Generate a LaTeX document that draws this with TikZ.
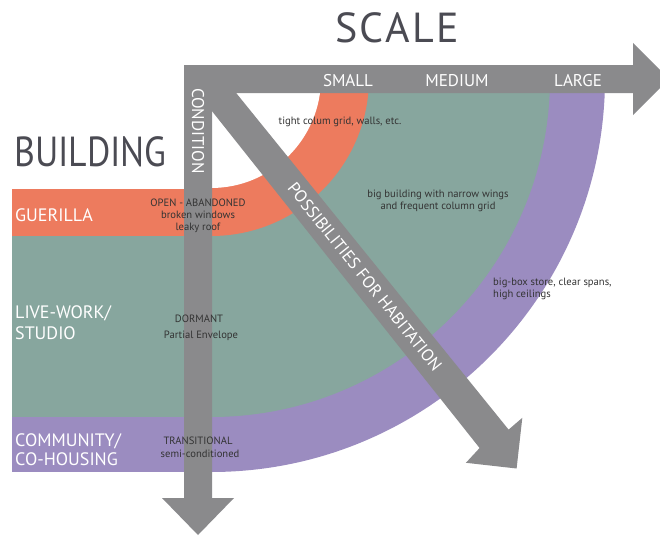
\documentclass[tikz,border=0pt]{standalone}
\usepackage{fontspec}
\setmainfont{PT Sans}
\definecolor{barGray}{HTML}{8A8A8C}
\definecolor{bandOrange}{HTML}{ED7B5E}
\definecolor{bandTeal}{HTML}{87A69E}
\definecolor{bandPurple}{HTML}{9B8CC0}
\definecolor{noteText}{HTML}{333333}
\definecolor{titleText}{HTML}{4B4B53}
\begin{document}
\begin{tikzpicture}[x=1pt,y=-1pt,
  bar/.style={fill=barGray},
  bigtitle/.style={text=titleText, inner sep=0, font=\fontsize{42}{46}\selectfont},
  whitelab/.style={text=white, inner sep=0, font=\fontsize{17}{20}\selectfont},
  rowlab/.style={text=white, inner sep=0, font=\fontsize{18}{21}\selectfont},
  note/.style={text=noteText, inner sep=0, font=\fontsize{10.6}{12}\selectfont}]
\useasboundingbox (0,0) rectangle (660,535);
\coordinate (C) at (211,78);
% bands
\fill[bandPurple] (12,189) rectangle (211,472);
\fill[bandPurple] (C) -- (211,472) arc[start angle=90,end angle=0,radius=394] -- cycle;
\fill[bandTeal] (12,189) rectangle (211,417);
\fill[bandTeal] (C) -- (211,417) arc[start angle=90,end angle=0,radius=339] -- cycle;
\fill[bandOrange] (12,189) rectangle (211,236);
\fill[bandOrange] (C) -- (211,236) arc[start angle=90,end angle=0,radius=158] -- cycle;
\fill[white] (C) -- (211,188) arc[start angle=90,end angle=0,radius=110] -- cycle;
% diagonal arrow
\fill[bar] (223.7,77.6) -- (200.3,96.4) -- (479.6,448.0) -- (465.9,462.8) -- (516.6,468.5) -- (522.3,417.8) -- (508.6,429.6) -- cycle;
% horizontal and vertical arrows
\fill[bar] (184,65) -- (633,65) -- (633,43) -- (669,79) -- (633,115) -- (633,93) -- (212,93) -- (212,498) -- (234,498) -- (198,535) -- (162,498) -- (184,498) -- cycle;
% titles
\node[bigtitle, anchor=base] (scale) at (397,43) {\addfontfeatures{LetterSpace=6}SCALE};
\node[bigtitle, anchor=base west] (building) at (14,166) {\scalebox{0.85}[1]{BUILDING}};
% axis labels
\node[whitelab, anchor=base] (small) at (348,86) {SMALL};
\node[whitelab, anchor=base] (medium) at (457,86) {MEDIUM};
\node[whitelab, anchor=base] (large) at (578,86) {LARGE};
\node[whitelab, rotate=-90] (condition) at (198,131) {CONDITION};
\node[whitelab, rotate=-51.4] (poss) at (365,277) {POSSIBILITIES FOR HABITATION};
% row labels
\node[rowlab, anchor=base west] (guer) at (15,221) {GUERILLA};
\node[rowlab, anchor=base west] (live1) at (15,318) {LIVE-WORK/};
\node[rowlab, anchor=base west] (live2) at (15,339) {STUDIO};
\node[rowlab, anchor=base west] (comm1) at (15,446) {COMMUNITY/};
\node[rowlab, anchor=base west] (comm2) at (15,465) {CO-HOUSING};
% notes
\node[note, anchor=base] (open1) at (198,206) {OPEN - ABANDONED};
\node[note, anchor=base] (open2) at (198,218) {broken windows};
\node[note, anchor=base] (open3) at (198,230) {leaky roof};
\node[note, anchor=base] (dor1) at (199,322) {DORMANT};
\node[note, anchor=base] (dor2) at (201,338) {Partial Envelope};
\node[note, anchor=base] (tr1) at (198,444) {TRANSITIONAL};
\node[note, anchor=base] (tr2) at (200,457) {semi-conditioned};
\node[note, anchor=base] (tight) at (340,124) {tight colum grid, walls, etc.};
\node[note, anchor=base] (bigb1) at (438,197) {big building with narrow wings};
\node[note, anchor=base] (bigb2) at (438,209) {and frequent column grid};
\node[note, anchor=base west] (box1) at (493,285) {big-box store, clear spans,};
\node[note, anchor=base west] (box2) at (493,297) {high ceilings};
\end{tikzpicture}
\end{document}
